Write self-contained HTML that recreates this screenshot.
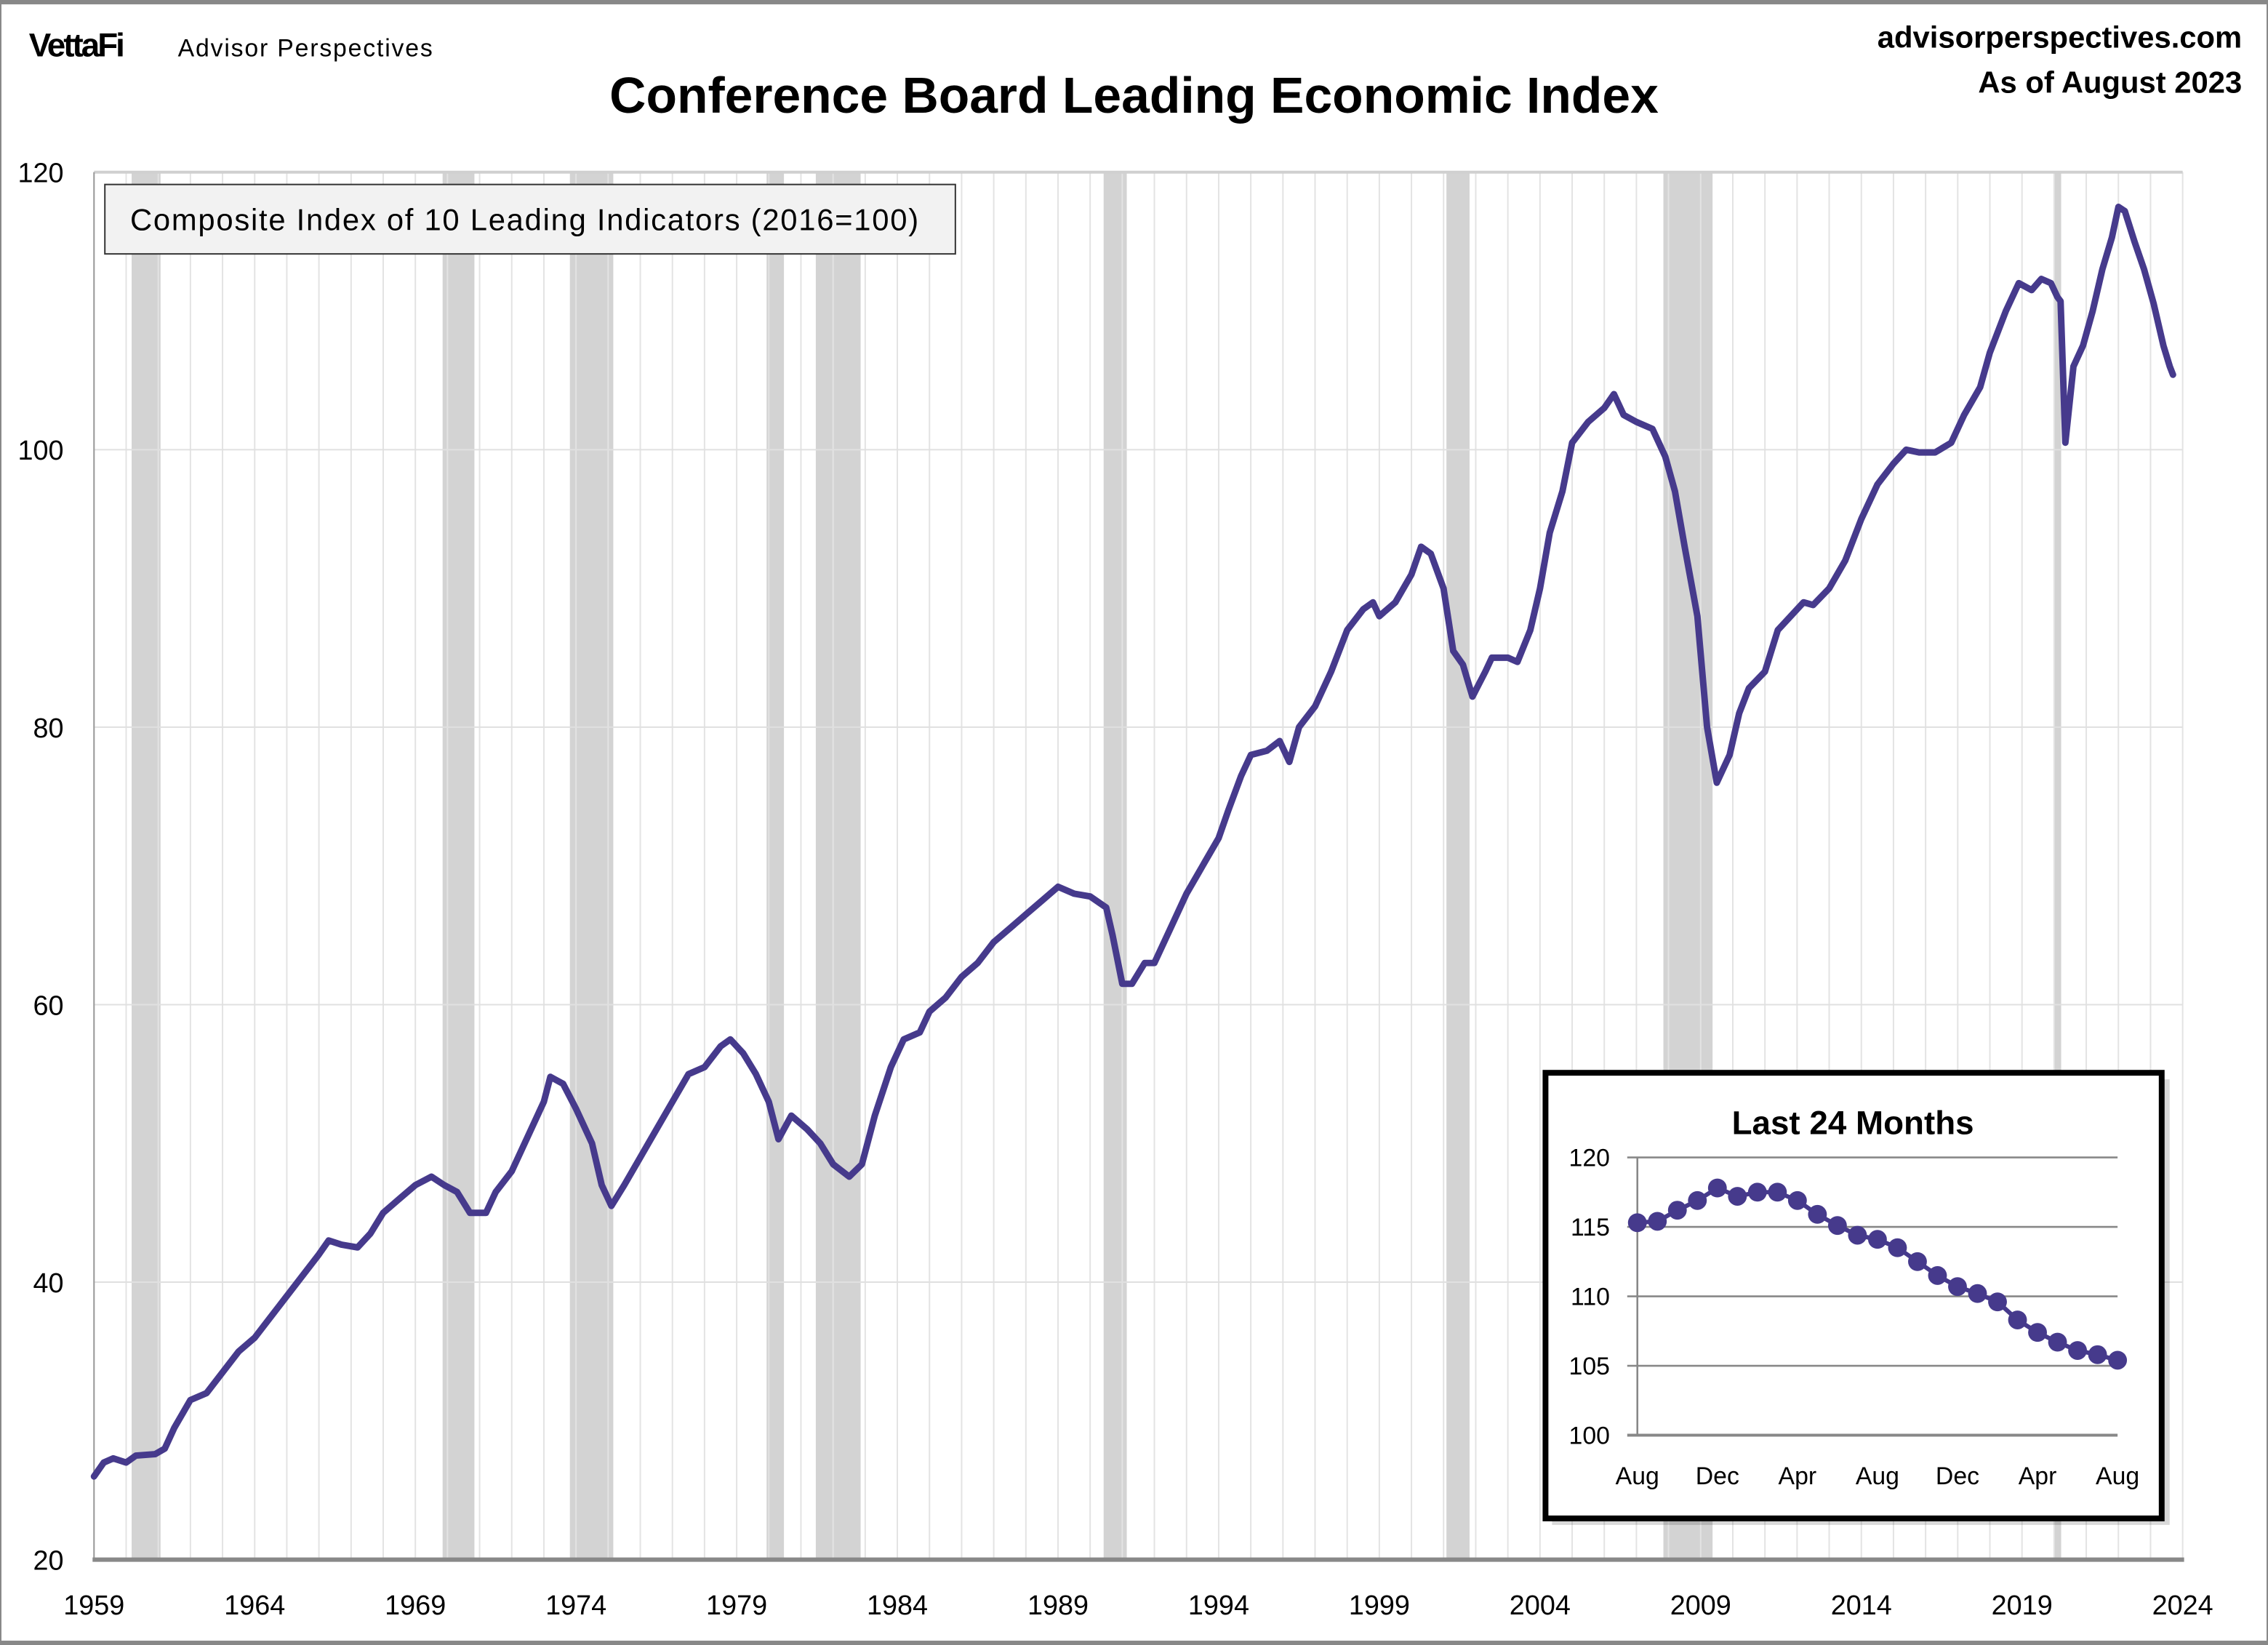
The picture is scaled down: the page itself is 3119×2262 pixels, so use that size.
<!DOCTYPE html>
<html><head><meta charset="utf-8"><style>
html,body{margin:0;padding:0;background:#fff}
svg{display:block}
text{font-family:"Liberation Sans",sans-serif}
</style></head><body>
<svg id="s" width="3119" height="2262" viewBox="0 0 1568 1137" preserveAspectRatio="none" xmlns="http://www.w3.org/2000/svg">
<rect x="0.5" y="0.5" width="1567" height="1136" fill="#fff" stroke="#888" stroke-width="1"/>
<rect x="0" y="0" width="1568" height="3" fill="#888"/>
<rect x="0" y="1134" width="1568" height="3" fill="#888"/>
<g id="rec" fill="#d3d3d3"></g>
<g id="grid"></g>
<g id="plot"></g>
<text x="20" y="39" font-size="23" font-weight="bold" letter-spacing="-1.5">VettaFi</text>
<text x="123" y="39" font-size="17" textLength="176">Advisor Perspectives</text>
<text x="1550" y="33" font-size="21" font-weight="bold" text-anchor="end">advisorperspectives.com</text>
<text x="1550" y="64" font-size="21" font-weight="bold" text-anchor="end">As of August 2023</text>
<text x="784" y="78" font-size="35" font-weight="bold" text-anchor="middle">Conference Board Leading Economic Index</text>
<rect x="72.5" y="127.5" width="588" height="48" fill="#f2f2f2" stroke="#333" stroke-width="1"/>
<text x="90" y="159" font-size="21" textLength="545">Composite Index of 10 Leading Indicators (2016=100)</text>
<g id="inset"></g>
</svg>
<script>
const NS="http://www.w3.org/2000/svg";
function el(p,t,a,txt){const e=document.createElementNS(NS,t);for(const k in a)e.setAttribute(k,a[k]);if(txt!==undefined)e.textContent=txt;p.appendChild(e);return e;}
const X=y=>65+(y-1959)*(1444/65), Y=v=>1078-(v-20)*9.59;
const rec=document.getElementById('rec'),grid=document.getElementById('grid'),plot=document.getElementById('plot');
[[91,111],[306,328],[394,424],[530,542],[564,595],[763,779],[1000,1016],[1150,1184],[1420,1425]].forEach(r=>el(rec,'rect',{x:r[0],y:119,width:r[1]-r[0],height:959}));
for(let y=1959;y<=2024;y++){el(grid,'line',{x1:X(y),x2:X(y),y1:119,y2:1078,stroke:'#e3e3e3','stroke-width':1});}
for(let v=40;v<=120;v+=20){el(grid,'line',{x1:65,x2:1509,y1:Y(v),y2:Y(v),stroke:v==120?'#d0d0d0':'#e0e0e0','stroke-width':v==120?2:1});}
el(grid,'line',{x1:65,x2:65,y1:119,y2:1078,stroke:'#999','stroke-width':1});
el(grid,'line',{x1:64,x2:1510,y1:1078,y2:1078,stroke:'#888','stroke-width':3});
for(let v=20;v<=120;v+=20)el(grid,'text',{x:44,y:Y(v)+7,'font-size':19,'text-anchor':'end'},v);
for(let y=1959;y<=2024;y+=5)el(grid,'text',{x:X(y),y:1116,'font-size':19,'text-anchor':'middle'},y);
const d=[[1959,26],[1959.3,27],[1959.6,27.3],[1960,27],[1960.3,27.5],[1960.9,27.6],[1961.2,28],[1961.5,29.5],[1962,31.5],[1962.5,32],[1963,33.5],[1963.5,35],[1964,36],[1964.5,37.5],[1965,39],[1965.5,40.5],[1966,42],[1966.3,43],[1966.7,42.7],[1967.2,42.5],[1967.6,43.5],[1968,45],[1968.5,46],[1969,47],[1969.5,47.6],[1969.9,47],[1970.3,46.5],[1970.7,45],[1971.2,45],[1971.5,46.5],[1972,48],[1972.5,50.5],[1973,53],[1973.2,54.8],[1973.6,54.3],[1974,52.5],[1974.5,50],[1974.8,47],[1975.1,45.5],[1975.5,47],[1976,49],[1976.5,51],[1977,53],[1977.5,55],[1978,55.5],[1978.5,57],[1978.8,57.5],[1979.2,56.5],[1979.6,55],[1980,53],[1980.3,50.3],[1980.7,52],[1981.2,51],[1981.6,50],[1982,48.5],[1982.5,47.6],[1982.9,48.5],[1983.3,52],[1983.8,55.5],[1984.2,57.5],[1984.7,58],[1985,59.5],[1985.5,60.5],[1986,62],[1986.5,63],[1987,64.5],[1987.5,65.5],[1988,66.5],[1988.5,67.5],[1989,68.5],[1989.5,68],[1990,67.8],[1990.5,67],[1990.7,65],[1991,61.5],[1991.3,61.5],[1991.7,63],[1992,63],[1992.5,65.5],[1993,68],[1993.5,70],[1994,72],[1994.3,74],[1994.7,76.5],[1995,78],[1995.5,78.3],[1995.9,79],[1996.2,77.5],[1996.5,80],[1997,81.5],[1997.5,84],[1998,87],[1998.5,88.5],[1998.8,89],[1999,88],[1999.5,89],[2000,91],[2000.3,93],[2000.6,92.5],[2001,90],[2001.3,85.5],[2001.6,84.5],[2001.9,82.2],[2002.3,84],[2002.5,85],[2003,85],[2003.3,84.7],[2003.7,87],[2004,90],[2004.3,94],[2004.7,97],[2005,100.5],[2005.5,102],[2006,103],[2006.3,104],[2006.6,102.5],[2007,102],[2007.5,101.5],[2007.9,99.5],[2008.2,97],[2008.5,93],[2008.9,88],[2009.2,80],[2009.5,76],[2009.9,78],[2010.2,81],[2010.5,82.8],[2011,84],[2011.4,87],[2011.8,88],[2012.2,89],[2012.5,88.8],[2013,90],[2013.5,92],[2014,95],[2014.5,97.5],[2015,99],[2015.4,100],[2015.8,99.8],[2016.3,99.8],[2016.8,100.5],[2017.2,102.5],[2017.7,104.5],[2018,107],[2018.5,110],[2018.9,112],[2019.3,111.5],[2019.6,112.3],[2019.9,112],[2020.1,111],[2020.2,110.7],[2020.35,100.5],[2020.6,106],[2020.9,107.5],[2021.2,110],[2021.5,113],[2021.8,115.3],[2022,117.5],[2022.2,117.2],[2022.5,115],[2022.8,113],[2023.1,110.5],[2023.4,107.5],[2023.6,106],[2023.7,105.4]];
el(plot,'polyline',{points:d.map(p=>X(p[0]).toFixed(1)+','+Y(p[1]).toFixed(1)).join(' '),fill:'none',stroke:'#463a8c','stroke-width':4.5,'stroke-linejoin':'round','stroke-linecap':'round'});
const ins=document.getElementById('inset');
el(ins,'rect',{x:1073,y:746,width:427,height:308,fill:'#000',opacity:0.15});
el(ins,'rect',{x:1068.5,y:741.5,width:426,height:308,fill:'#fff',stroke:'#000','stroke-width':4});
el(ins,'text',{x:1281,y:784,'font-size':23,'font-weight':'bold','text-anchor':'middle'},'Last 24 Months');
const iy=v=>992-(v-100)*9.6, ix=i=>1132+i*(332/24);
for(let v=100;v<=120;v+=5){el(ins,'line',{x1:1125,x2:1464,y1:iy(v),y2:iy(v),stroke:'#888','stroke-width':v==100?2:1.3});el(ins,'text',{x:1113,y:iy(v)+6,'font-size':17,'text-anchor':'end'},v);}
el(ins,'line',{x1:1132,x2:1132,y1:iy(120),y2:iy(100),stroke:'#888','stroke-width':1.3});
['Aug','Dec','Apr','Aug','Dec','Apr','Aug'].forEach((m,i)=>el(ins,'text',{x:ix(i*4),y:1026,'font-size':17,'text-anchor':'middle'},m));
const iv=[115.3,115.4,116.2,116.9,117.8,117.2,117.5,117.5,116.9,115.9,115.1,114.4,114.1,113.5,112.5,111.5,110.7,110.2,109.6,108.3,107.4,106.7,106.1,105.8,105.4];
el(ins,'polyline',{points:iv.map((v,i)=>ix(i).toFixed(1)+','+iy(v).toFixed(1)).join(' '),fill:'none',stroke:'#463a8c','stroke-width':3});
iv.forEach((v,i)=>el(ins,'circle',{cx:ix(i),cy:iy(v),r:6.5,fill:'#463a8c'}));
</script>
</body></html>
